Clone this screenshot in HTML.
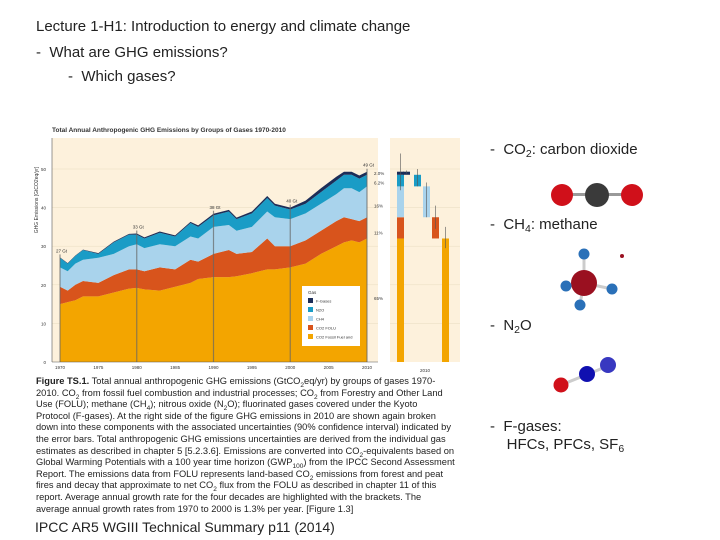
<!DOCTYPE html>
<html><head><meta charset="utf-8"><style>
body{margin:0;width:720px;height:540px;background:#fff;position:relative;overflow:hidden;font-family:"Liberation Sans",sans-serif;color:#222}
.t{position:absolute;white-space:nowrap}
.cap{position:absolute;left:36px;font-size:9.3px;line-height:11.6px;white-space:nowrap;color:#222}
sub{font-size:70%;vertical-align:-3px;line-height:0}
</style></head><body>
<div class="t" style="left:36px;top:18px;font-size:15px"><span>Lecture 1-H1</span>: Introduction to energy and climate change</div>
<div class="t" style="left:36px;top:44px;font-size:15px">-&nbsp; What are GHG emissions?</div>
<div class="t" style="left:68px;top:68px;font-size:15px">-&nbsp; Which gases?</div>

<svg id="chart" style="position:absolute;left:0;top:0" width="720" height="540">
<rect x="52" y="138" width="326" height="224" fill="#fdf1dc"/>
<rect x="390" y="138" width="70" height="224" fill="#fdf1dc"/>
<text x="52" y="132" font-size="6.5" font-weight="bold" fill="#333" font-family="Liberation Sans">Total Annual Anthropogenic GHG Emissions by Groups of Gases 1970-2010</text>
<g id="grid"></g><g id="layers"></g><g id="axes"></g><g id="right"></g>
</svg>

<div class="cap" style="top:376px">
<b>Figure TS.1.</b> Total annual anthropogenic GHG emissions (GtCO<sub>2</sub>eq/yr) by groups of gases 1970-<br>
2010. CO<sub>2</sub> from fossil fuel combustion and industrial processes; CO<sub>2</sub> from Forestry and Other Land<br>
Use (FOLU); methane (CH<sub>4</sub>); nitrous oxide (N<sub>2</sub>O); fluorinated gases covered under the Kyoto<br>
Protocol (F-gases). At the right side of the figure GHG emissions in 2010 are shown again broken<br>
down into these components with the associated uncertainties (90% confidence interval) indicated by<br>
the error bars. Total anthropogenic GHG emissions uncertainties are derived from the individual gas<br>
estimates as described in chapter 5 [5.2.3.6]. Emissions are converted into CO<sub>2</sub>-equivalents based on<br>
Global Warming Potentials with a 100 year time horizon (GWP<sub>100</sub>) from the IPCC Second Assessment<br>
Report. The emissions data from FOLU represents land-based CO<sub>2</sub> emissions from forest and peat<br>
fires and decay that approximate to net CO<sub>2</sub> flux from the FOLU as described in chapter 11 of this<br>
report. Average annual growth rate for the four decades are highlighted with the brackets. The<br>
average annual growth rates from 1970 to 2000 is 1.3% per year. [Figure 1.3]</div>
<div class="t" style="left:35px;top:519px;font-size:14px">IPCC AR5 WGIII Technical Summary p11 (2014)</div>

<div class="t" style="left:490px;top:141px;font-size:15px">-&nbsp; CO<sub>2</sub>: carbon dioxide</div>
<div class="t" style="left:490px;top:216px;font-size:15px">-&nbsp; CH<sub>4</sub>: methane</div>
<div class="t" style="left:490px;top:317px;font-size:15px">-&nbsp; N<sub>2</sub>O</div>
<div class="t" style="left:490px;top:418px;font-size:15px;line-height:18px">-&nbsp; F-gases:<br>&nbsp;&nbsp;&nbsp; HFCs, PFCs, SF<sub>6</sub></div>

<svg style="position:absolute;left:0;top:0;pointer-events:none" width="720" height="540">
<g>
<rect x="562" y="193" width="70" height="3" fill="#999"/>
<circle cx="562" cy="195" r="11" fill="#d0101a"/><circle cx="632" cy="195" r="11" fill="#d0101a"/><circle cx="597" cy="195" r="12" fill="#3a3a3a"/></g>
<g stroke="#ccc" stroke-width="3">
<line x1="584" y1="283" x2="584" y2="256"/><line x1="584" y1="283" x2="566" y2="286"/><line x1="584" y1="283" x2="612" y2="289"/><line x1="584" y1="283" x2="580" y2="304"/>
<circle cx="584" cy="283" r="13" fill="#9a1020" stroke="none"/><circle cx="584" cy="254" r="5.5" fill="#2a70b8" stroke="none"/><circle cx="566" cy="286" r="5.5" fill="#2a70b8" stroke="none"/><circle cx="612" cy="289" r="5.5" fill="#2a70b8" stroke="none"/><circle cx="580" cy="305" r="5.5" fill="#2a70b8" stroke="none"/><circle cx="622" cy="256" r="2" fill="#9a1020" stroke="none"/></g>
<g>
<line x1="561" y1="385" x2="608" y2="366" stroke="#ccc" stroke-width="3"/>
<circle cx="561" cy="385" r="7.5" fill="#d0101a"/><circle cx="587" cy="374" r="8" fill="#1010b0"/><circle cx="608" cy="365" r="8" fill="#3838c0"/></g>
</svg>

<script>
const years=[1970,1971,1972,1973,1975,1977,1979,1980,1981,1983,1985,1987,1988,1990,1992,1993,1995,1997,1998,2000,2002,2004,2006,2007,2008,2009,2010];
const co2Fossil=[15,15.5,16,17,17,18,19,19.2,18.8,18.5,19.5,20.5,21.5,22,22,22.2,23,24,24,24.5,25.5,28,30,31,31.5,31,32];
const co2Folu=[4.5,3,4,4,3.5,4.5,5,4.8,4.7,6,4.5,6,4.5,6,7,5.8,5.5,8,6,5.5,6,6,6.5,6.5,5.5,5.5,5.5];
const ch4=[5,5,5.5,5.5,6.5,5.5,6,6.5,6,6,6,6,6,7,6.5,6,6.5,7,7.5,7,7,7,7,7.5,8,7.5,8];
const n2o=[2.5,2,2,2.5,1,3,3,2.5,2.5,3,2.5,3.5,3,3,3.5,3,3.5,3.5,3,2.5,2.5,3,3.5,3.5,3.5,3.5,3];
const fgases=[0.1,0.1,0.1,0.1,0.2,0.2,0.2,0.3,0.3,0.3,0.3,0.3,0.4,0.4,0.4,0.4,0.5,0.5,0.5,0.5,0.8,1,1,0.8,0.8,0.8,0.8];
const yTicks=[0,10,20,30,40,50];
const xTicks=[1970,1975,1980,1985,1990,1995,2000,2005,2010];
const share2010=[32,5.5,8,3,0.8];
const errLow2010=[29.5,34.5,37.5,45.5,48.8];
const errHigh2010=[35,40.5,46.5,50,49.6];
const colors=["#f3a500","#d8541c","#a9d3ec","#1a9cc6","#1c2d58"];
const NS="http://www.w3.org/2000/svg";
const X=v=>60+(v-1970)*(367-60)/40, Y=v=>362-v*(362-169)/50;
function mk(tag,attrs,parent){const e=document.createElementNS(NS,tag);for(const k in attrs)e.setAttribute(k,attrs[k]);parent.appendChild(e);return e;}
const grid=document.getElementById('grid'),layers=document.getElementById('layers'),axes=document.getElementById('axes'),right=document.getElementById('right');
const series=[co2Fossil,co2Folu,ch4,n2o,fgases];
const keys=['co2-fossil','co2-folu','ch4','n2o','fgases'];
let base=years.map(()=>0);
series.forEach((s,i)=>{
  const top=base.map((b,j)=>b+s[j]);
  let d="M"+years.map((y,j)=>X(y)+","+Y(top[j])).join("L");
  for(let j=years.length-1;j>=0;j--)d+="L"+X(years[j])+","+Y(base[j]);
  const p=mk('path',{d:d+"Z",fill:colors[i]},layers);
  
  
  base=top;
});
[1970,1980,1990,2000,2010].forEach(yr=>{
  const j=years.indexOf(yr);
  const l=mk('line',{x1:X(yr),x2:X(yr),y1:Y(0),y2:Y(base[j])-3,stroke:"#666","stroke-width":1.2,opacity:.7},axes);
  
  
  const t=mk('text',{x:X(yr)-4,y:Y(base[j])-5,"font-size":4.5,fill:"#333"},axes);t.textContent=Math.round(base[j])+" Gt";
});
yTicks.forEach(v=>{
  const t=mk('text',{x:46,y:Y(v)+2,"font-size":4.5,fill:"#333","text-anchor":"end"},axes);t.textContent=v;
  
  
  if(v>0){mk('line',{x1:52,x2:378,y1:Y(v),y2:Y(v),stroke:"#e8dcc0","stroke-width":.5},grid);mk('line',{x1:390,x2:460,y1:Y(v),y2:Y(v),stroke:"#e8dcc0","stroke-width":.5},grid);}
});
xTicks.forEach(v=>{
  const t=mk('text',{x:X(v),y:369,"font-size":4.5,fill:"#333","text-anchor":"middle"},axes);t.textContent=v;
  
  
});
const yt=mk('text',{x:38,y:200,"font-size":5,fill:"#333",transform:"rotate(-90 38 200)","text-anchor":"middle"},axes);yt.textContent="GHG Emissions [GtCO2eq/yr]";


mk('line',{x1:52,x2:52,y1:138,y2:362,stroke:"#555","stroke-width":.6},axes);
mk('line',{x1:52,x2:378,y1:362,y2:362,stroke:"#555","stroke-width":.6},axes);
const lg=mk('g',{},axes);


mk('rect',{x:302,y:286,width:58,height:60,fill:"#fff"},lg);
mk('text',{x:308,y:294,"font-size":4.5,fill:"#333"},lg).textContent="Gas";
["F-Gases","N2O","CH4","CO2 FOLU","CO2 Fossil Fuel and"].forEach((n,k)=>{
  mk('rect',{x:308,y:298+k*9,width:5,height:5,fill:colors[4-k]},lg);
  mk('text',{x:316,y:302.5+k*9,"font-size":4,fill:"#333"},lg).textContent=n;
});
let cum=0;
const bw=7;
const compX=[442,432,423,414,403];
share2010.forEach((v,i)=>{
  const r=mk('rect',{x:397,y:Y(cum+v),width:bw,height:Y(cum)-Y(cum+v),fill:colors[i]},right);
  
  
  const bx=compX[i];
  const r2=mk('rect',{x:bx,y:Y(cum+v),width:bw,height:Y(cum)-Y(cum+v),fill:colors[i]},right);
  
  
  mk('line',{x1:bx+bw/2,x2:bx+bw/2,y1:Y(errHigh2010[i]),y2:Y(errLow2010[i]),stroke:"#555","stroke-width":.6},right);
  cum+=v;
});
mk('line',{x1:400.5,x2:400.5,y1:Y(54),y2:Y(44.5),stroke:"#555","stroke-width":.6},right);
mk('text',{x:425,y:372,"font-size":4.5,fill:"#333","text-anchor":"middle"},right).textContent="2010";
[["65%",374,Y(16)],["11%",374,Y(33)],["16%",374,Y(40)],["6.2%",374,Y(46)],["2.0%",374,Y(48.5)]].forEach(a=>{mk('text',{x:a[1],y:a[2],"font-size":4.5,fill:"#333"},axes).textContent=a[0];});
</script>
</body></html>
